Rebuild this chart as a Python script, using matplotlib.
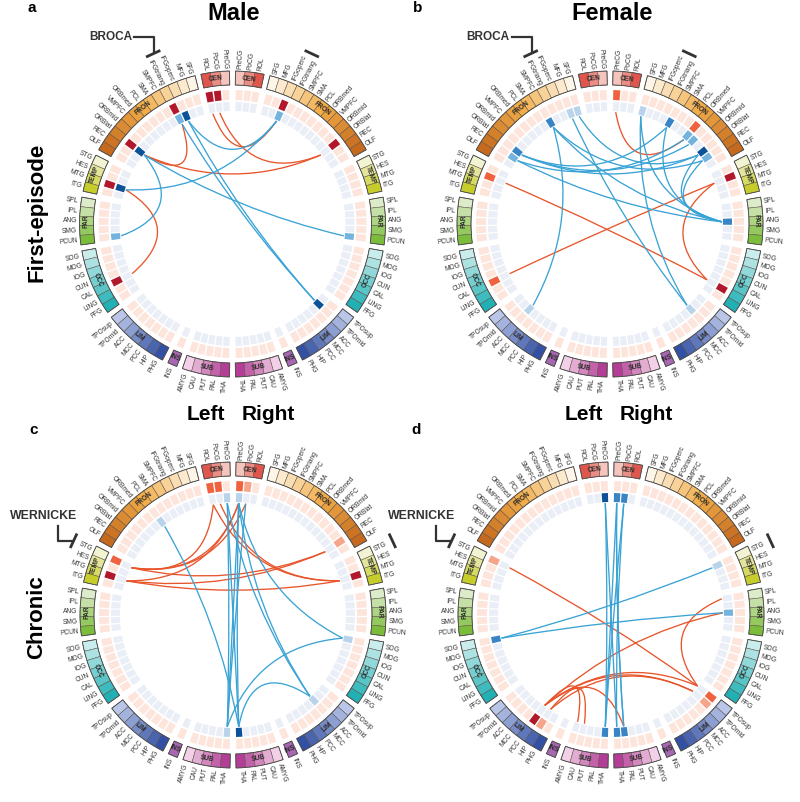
import numpy as np
import matplotlib
matplotlib.use('Agg')
import matplotlib.pyplot as plt
from matplotlib.patches import Wedge, PathPatch
from matplotlib.path import Path
from matplotlib.colors import to_rgb

plt.rcParams['font.family'] = ['Liberation Sans', 'DejaVu Sans']

# ---- atlas layout (top of each hemisphere -> bottom) ----
groups = ['CEN', 'FRON', 'TEMP', 'PAR', 'OCC', 'LIM', 'INS', 'SUB']
regions = {
    'CEN': ['PreCG', 'PoCG', 'ROL'],
    'FRON': ['SFG', 'MFG', 'IFGoperc', 'IFGtriang', 'SMPFC', 'SMA', 'PCL',
             'ORBmed', 'VMPFC', 'ORBmid', 'ORBlat', 'REC', 'OLF'],
    'TEMP': ['STG', 'HES', 'MTG', 'ITG'],
    'PAR': ['SPL', 'IPL', 'ANG', 'SMG', 'PCUN'],
    'OCC': ['SOG', 'MOG', 'IOG', 'CUN', 'CAL', 'LING', 'FFG'],
    'LIM': ['TPOsup', 'TPOmid', 'ACC', 'MCC', 'PCC', 'HIP', 'PHG'],
    'INS': ['INS'],
    'SUB': ['AMYG', 'CAU', 'PUT', 'PAL', 'THA'],
}
group_cols = {
    'CEN': ['#f5c4bc', '#e0564c'],
    'FRON': ['#fdf6e8', '#f2ad48', '#c4691d'],
    'TEMP': ['#f1f3d2', '#c6cd2b'],
    'PAR': ['#dcebc9', '#7bbd3b'],
    'OCC': ['#c9ecec', '#21b1b5'],
    'LIM': ['#b9c6e8', '#3251a5'],
    'INS': ['#a867b3', '#a867b3'],
    'SUB': ['#f2d0e7', '#b43e97'],
}

# ---- panel data: highlighted cells (side:region, level) and links ----
a_pos = [('L:ROL', 3), ('L:PoCG', 3), ('L:IFGtriang', 3), ('L:ORBlat', 3),
         ('L:MTG', 3), ('L:CAL', 3), ('R:IFGoperc', 3), ('R:ORBlat', 3)]
a_neg = [('L:IFGoperc', 3), ('L:IFGtriang', 1), ('L:ORBlat', 3), ('L:MTG', 3),
         ('L:PCUN', 1), ('R:IFGoperc', 1), ('R:PCUN', 1), ('R:TPOmid', 3)]
a_red = [('L:ROL', 'R:IFGoperc'), ('L:PoCG', 'R:ORBlat'), ('L:IFGtriang', 'L:ORBlat'),
         ('L:ORBlat', 'R:ORBlat'), ('L:MTG', 'L:CAL')]
a_blue = [('L:IFGoperc', 'R:TPOmid'), ('L:IFGtriang', 'R:TPOmid'), ('L:MTG', 'R:IFGoperc'),
          ('L:ORBlat', 'R:PCUN'), ('L:ORBlat', 'L:PCUN'), ('L:IFGoperc', 'R:IFGoperc')]

b_pos = [('L:HES', 2), ('L:CAL', 2), ('R:PreCG', 2), ('R:ORBmed', 2),
         ('R:HES', 3), ('R:LING', 3)]
b_neg = [('L:SFG', 0), ('L:MFG', 0), ('L:SMPFC', 2), ('L:ORBlat', 2), ('L:REC', 1),
         ('L:ACC', 0), ('R:SFG', 0), ('R:SMPFC', 2), ('R:ORBmed', 1), ('R:VMPFC', 1),
         ('R:ORBlat', 3), ('R:REC', 1), ('R:ANG', 2), ('R:ACC', 0)]
b_red = [('L:HES', 'R:LING'), ('R:HES', 'L:CAL'), ('R:PreCG', 'R:ORBmed'),
         ('R:HES', 'R:LING')]
b_blue = [('L:ORBlat', 'R:ORBlat'), ('L:ORBlat', 'R:VMPFC'), ('L:REC', 'R:ORBmed'),
          ('L:REC', 'R:ANG'), ('L:SMPFC', 'R:ANG'), ('L:SMPFC', 'L:ACC'),
          ('L:MFG', 'R:ACC'), ('L:SFG', 'R:ORBlat'), ('R:SFG', 'R:ANG'),
          ('R:SMPFC', 'R:ANG'), ('R:ORBlat', 'R:ANG'), ('R:REC', 'R:ANG'),
          ('R:SMPFC', 'L:ORBlat'), ('R:ACC', 'R:SFG'), ('L:SMPFC', 'R:REC')]

c_pos = [('L:ROL', 2), ('L:PoCG', 2), ('R:PreCG', 2), ('R:PoCG', 1),
         ('L:STG', 2), ('L:MTG', 3), ('R:MTG', 3), ('R:REC', 1)]
c_neg = [('L:PreCG', 0), ('R:PreCG', 0), ('L:PCL', 0), ('L:THA', 0),
         ('R:THA', 3), ('R:ACC', 0), ('R:SOG', 0)]
c_red = [('L:STG', 'R:PreCG'), ('L:STG', 'R:PoCG'), ('L:MTG', 'R:MTG'),
         ('L:STG', 'R:REC'), ('L:MTG', 'R:REC'), ('L:ROL', 'R:MTG'),
         ('L:PoCG', 'R:MTG'), ('R:PreCG', 'L:MTG'), ('L:ROL', 'L:STG')]
c_blue = [('L:PreCG', 'L:THA'), ('L:PreCG', 'R:THA'), ('R:PreCG', 'L:THA'),
          ('R:PreCG', 'R:THA'), ('L:PreCG', 'R:ACC'), ('R:PreCG', 'R:ACC'),
          ('L:PCL', 'R:THA'), ('R:THA', 'R:ACC'), ('L:THA', 'R:SOG'),
          ('R:PreCG', 'R:SOG'), ('R:PoCG', 'L:THA')]

d_pos = [('L:STG', 1), ('L:PCC', 3), ('L:HIP', 1), ('R:TPOsup', 2), ('R:TPOmid', 1)]
d_neg = [('L:PreCG', 3), ('R:PreCG', 2), ('R:PoCG', 2), ('L:THA', 2), ('R:THA', 2),
         ('R:PAL', 2), ('L:SOG', 2), ('R:ANG', 1), ('R:STG', 0)]
d_red = [('L:STG', 'R:TPOsup'), ('L:PCC', 'R:TPOsup'), ('L:PCC', 'R:TPOmid'),
         ('L:PCC', 'R:PAL'), ('L:PCC', 'R:ANG'), ('R:TPOsup', 'R:SPL'),
         ('L:HIP', 'L:CAU'), ('L:HIP', 'R:TPOmid'), ('L:PCC', 'L:AMYG')]
d_blue = [('L:PreCG', 'L:THA'), ('L:PreCG', 'R:THA'), ('R:PreCG', 'L:THA'),
          ('R:PreCG', 'R:PAL'), ('R:PoCG', 'R:THA'), ('R:PoCG', 'L:THA'),
          ('L:SOG', 'R:ANG'), ('L:SOG', 'R:STG'), ('R:PreCG', 'R:PAL')]

# ---- styling ----
POS = {3: '#b2182b', 2: '#f0623f', 1: '#f7a58a'}
NEG = {3: '#0c5299', 2: '#3884c4', 1: '#74b3dd', 0: '#b9d4ea'}
PINK, PALEBLUE = '#fde5dc', '#eaeef7'
RED_LINK, BLUE_LINK = '#e8552b', '#3aa3d6'
CELL, GAP = 3.6, 2.25
R_OUT, R_IN = 153, 139
R_P1, R_P0 = 134, 124
R_B1, R_B0 = 122, 113
R_LINK = 112

# angles of every region cell
ANG = {}
GSPAN = {}
for side in 'LR':
    off = GAP / 2
    for g in groups:
        g0 = off
        for reg in regions[g]:
            if side == 'L':
                ANG[side + ':' + reg] = (90 + off, 90 + off + CELL)
            else:
                ANG[side + ':' + reg] = (90 - off - CELL, 90 - off)
            off += CELL
        if side == 'L':
            GSPAN[(side, g)] = (90 + g0, 90 + off)
        else:
            GSPAN[(side, g)] = (90 - off, 90 - g0)
        off += GAP


def pol(cx, cy, r, th):
    t = np.radians(th)
    return cx + r * np.cos(t), cy + r * np.sin(t)


def grad(stops, n):
    stops = [np.array(to_rgb(s)) for s in stops]
    out = []
    for i in range(n):
        t = i / (n - 1) if n > 1 else 0
        seg = min(int(t * (len(stops) - 1)), len(stops) - 2)
        tt = t * (len(stops) - 1) - seg
        out.append(tuple(stops[seg] * (1 - tt) + stops[seg + 1] * tt))
    return out


def mid(key):
    t1, t2 = ANG[key]
    return (t1 + t2) / 2


def draw_panel(ax, cx, cy, pos, neg, red, blue):
    pos = dict(pos)
    neg = dict(neg)
    for side in 'LR':
        for g in groups:
            cols = grad(group_cols[g], len(regions[g]))
            for reg, col in zip(regions[g], cols):
                key = side + ':' + reg
                t1, t2 = ANG[key]
                ax.add_patch(Wedge((cx, cy), R_OUT, t1, t2, width=R_OUT - R_IN,
                                   fc=col, ec='#5e5048', lw=0.35))
                s1, s2 = t1 + 0.3, t2 - 0.3
                pc = POS[pos[key]] if key in pos else PINK
                bc = NEG[neg[key]] if key in neg else PALEBLUE
                ax.add_patch(Wedge((cx, cy), R_P1, s1, s2, width=R_P1 - R_P0, fc=pc, ec='none'))
                ax.add_patch(Wedge((cx, cy), R_B1, s1, s2, width=R_B1 - R_B0, fc=bc, ec='none'))
                th = (t1 + t2) / 2
                x, y = pol(cx, cy, R_OUT + 2.5, th)
                if np.cos(np.radians(th)) >= 0:
                    ax.text(x, y, reg, rotation=th, ha='left', va='center',
                            rotation_mode='anchor', fontsize=4.8, color='#333333')
                else:
                    ax.text(x, y, reg, rotation=th - 180, ha='right', va='center',
                            rotation_mode='anchor', fontsize=4.8, color='#333333')
            g1, g2 = GSPAN[(side, g)]
            ax.add_patch(Wedge((cx, cy), R_OUT, g1, g2, width=R_OUT - R_IN,
                               fc='none', ec='#4a4a4a', lw=0.6))
            th = (g1 + g2) / 2
            x, y = pol(cx, cy, (R_OUT + R_IN) / 2, th)
            rot = th - 90 if (th % 360) < 180 else th - 270
            ax.text(x, y, g, rotation=rot, ha='center', va='center',
                    rotation_mode='anchor', fontsize=4.8, fontweight='bold', color='#2a2a2a')
    for links, col in ((red, RED_LINK), (blue, BLUE_LINK)):
        for k1, k2 in links:
            p1 = np.array(pol(cx, cy, R_LINK, mid(k1)))
            p2 = np.array(pol(cx, cy, R_LINK, mid(k2)))
            c = np.array([cx, cy])
            cp = c + ((p1 + p2) / 2 - c) * 0.45
            path = Path([p1, cp, p2], [Path.MOVETO, Path.CURVE3, Path.CURVE3])
            ax.add_patch(PathPatch(path, fc='none', ec=col, lw=0.95))


def tangent_bar(ax, cx, cy, r, th, half=2.4):
    xs, ys = zip(*[pol(cx, cy, r, t) for t in (th - half, th + half)])
    ax.plot(xs, ys, color='#333333', lw=2.0, solid_capstyle='butt')
    return pol(cx, cy, r, th)


fig = plt.figure(figsize=(8, 8.02), dpi=100)
ax = fig.add_axes([0, 0, 1, 1])
ax.set_xlim(0, 800)
ax.set_ylim(0, 802)
ax.axis('off')

centers = {'a': (232.5, 578), 'b': (610, 578), 'c': (233, 187), 'd': (611, 187)}
draw_panel(ax, *centers['a'], a_pos, a_neg, a_red, a_blue)
draw_panel(ax, *centers['b'], b_pos, b_neg, b_red, b_blue)
draw_panel(ax, *centers['c'], c_pos, c_neg, c_red, c_blue)
draw_panel(ax, *centers['d'], d_pos, d_neg, d_red, d_blue)

# BROCA markers (top row)
for p in 'ab':
    cx, cy = centers[p]
    thl = (mid('L:IFGoperc') + mid('L:IFGtriang')) / 2
    bx, by = tangent_bar(ax, cx, cy, 188, thl)
    ax.plot([bx - 19, bx + 1, bx + 1], [by + 17, by + 17, by + 2], color='#333333', lw=1.6)
    ax.text(bx - 21, by + 17, 'BROCA', ha='right', va='center', fontsize=8.5,
            fontweight='bold', color='#333333')
    thr = (mid('R:IFGoperc') + mid('R:IFGtriang')) / 2
    tangent_bar(ax, cx, cy, 188, thr)

# WERNICKE markers (bottom row)
for p in 'cd':
    cx, cy = centers[p]
    bx, by = tangent_bar(ax, cx, cy, 176, mid('L:STG'), half=2.6)
    ax.plot([bx, bx - 15, bx - 15], [by, by, by + 15], color='#333333', lw=1.6)
    ax.text(bx - 30, by + 25, 'WERNICKE', ha='center', va='center', fontsize=8.8,
            fontweight='bold', color='#333333')
    tangent_bar(ax, cx, cy, 176, mid('R:STG'), half=2.6)

# titles and labels
ax.text(234, 788, 'Male', ha='center', va='center', fontsize=17, fontweight='bold')
ax.text(612, 788, 'Female', ha='center', va='center', fontsize=17, fontweight='bold')
ax.text(37, 590, 'First-episode', rotation=90, ha='center', va='center',
        fontsize=16, fontweight='bold')
ax.text(37, 185, 'Chronic', rotation=90, ha='center', va='center',
        fontsize=16, fontweight='bold')
for p in 'cd':
    cx, cy = centers[p]
    ax.text(cx - 8, 387, 'Left', ha='right', va='center', fontsize=15, fontweight='bold')
    ax.text(cx + 9, 387, 'Right', ha='left', va='center', fontsize=15, fontweight='bold')
for p, (x, y) in zip('abcd', [(32, 794), (418, 794), (34, 372), (416, 372)]):
    ax.text(x, y, p, ha='center', va='center', fontsize=11, fontweight='bold')

fig.savefig('out.png', dpi=100, facecolor='white')
